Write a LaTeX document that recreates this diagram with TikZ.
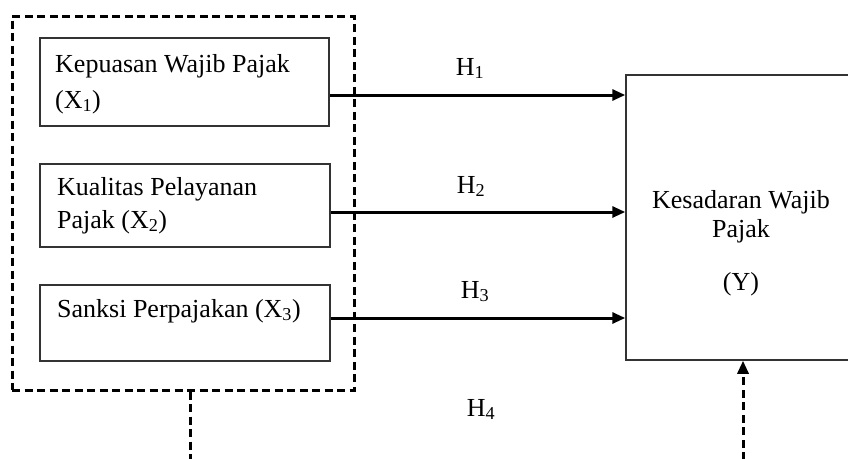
\documentclass[tikz,border=0pt]{standalone}
\usepackage{fontspec}
\setmainfont{Liberation Serif}
\usetikzlibrary{arrows.meta,calc}
\begin{document}
\begin{tikzpicture}[x=1pt,y=-1pt,
  varbox/.style={draw=black!80, line width=1.5pt, inner sep=0pt, rectangle},
  groupbox/.style={draw=black, line width=3pt, dash pattern=on 8pt off 4.5pt, inner sep=0pt, rectangle},
  txt/.style={inner sep=0pt, font=\fontsize{26}{35}\selectfont, align=left},
  hyp/.style={draw=black, line width=3pt, -{Triangle[length=13pt,width=11pt]}},
  hlabel/.style={inner sep=0pt, anchor=base, font=\fontsize{26}{30}\selectfont},
  joint/.style={draw=black, line width=3pt, dash pattern=on 8pt off 4.5pt}]
\clip (0,0) rectangle (848,458);
\fill[white] (0,0) rectangle (848,458);

% independent variables, grouped by a dashed frame
\node[groupbox, minimum width=342pt, minimum height=374pt] (grp) at (183,203) {};
\node[varbox, minimum width=289pt, minimum height=88pt] (b1) at (184.5,82) {};
\node[varbox, minimum width=290pt, minimum height=83pt] (b2) at (185,205.5) {};
\node[varbox, minimum width=290pt, minimum height=76pt] (b3) at (185,323) {};

% multi-line labels are anchored on the baseline of their last line
\node[txt, anchor=base west, font=\fontsize{26}{36}\selectfont] (t1) at (55,108) {Kepuasan Wajib Pajak\\(X\textsubscript{1})};
\node[txt, anchor=base west, font=\fontsize{26}{33}\selectfont] (t2) at (57,228) {Kualitas Pelayanan\\Pajak (X\textsubscript{2})};
\node[txt, anchor=base west] (t3) at (57,317) {Sanksi Perpajakan (X\textsubscript{3})};

% dependent variable
\node[varbox, minimum width=234pt, minimum height=285pt] (Y) at (743,217.5) {};
\node[txt, anchor=base, align=center, font=\fontsize{26}{29}\selectfont] (ty) at (741,290)
  {Kesadaran Wajib\\Pajak\\[24pt](Y)};

% partial hypotheses
\draw[hyp] (b1.east |- 0,95) -- (Y.west |- 0,95);
\draw[hyp] (b2.east |- 0,212) -- (Y.west |- 0,212);
\draw[hyp] (b3.east |- 0,318) -- (Y.west |- 0,318);
\node[hlabel] (h1) at (470,75) {H\textsubscript{1}};
\node[hlabel] (h2) at (471,193) {H\textsubscript{2}};
\node[hlabel] (h3) at (475,298) {H\textsubscript{3}};

% simultaneous hypothesis
\coordinate (jl) at (190,460.2);
\coordinate (jr) at (743,460.2);
\draw[joint] (grp.south -| jl) -- (jl) -- (jr);
\draw[joint, -{Triangle[length=13pt,width=11pt]}] (jr) -- (Y.south);
\node[hlabel] (h4) at (481,416) {H\textsubscript{4}};
\end{tikzpicture}
\end{document}
